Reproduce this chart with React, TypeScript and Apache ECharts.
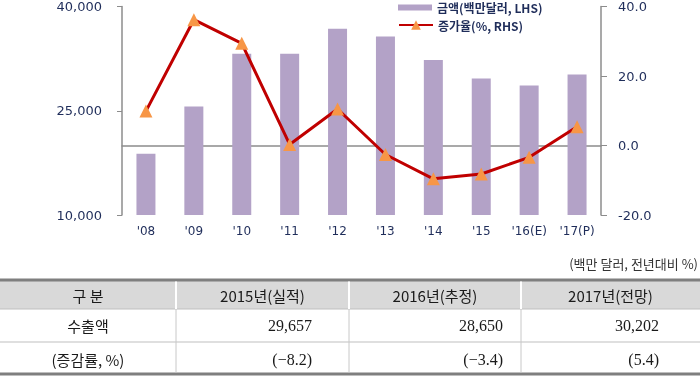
import React, { useEffect, useRef } from "react";
import * as echarts from "echarts";

const categories = ["'08", "'09", "'10", "'11", "'12", "'13", "'14", "'15", "'16(E)", "'17(P)"];
const amounts = [18800, 25600, 33200, 33200, 36800, 35700, 32300, 29657, 28650, 30202];
const growth = [9.9, 36.2, 29.4, 0.3, 10.5, -2.6, -9.6, -8.2, -3.4, 5.4];
const leftTicks = [10000, 25000, 40000];
const rightTicks = [-20, 0, 20, 40];

const unitNote = "(백만 달러, 전년대비 %)";
const tableHeaders = ["구 분", "2015년(실적)", "2016년(추정)", "2017년(전망)"];
const rowLabels = ["수출액", "(증감률, %)"];
const exportValues = ["29,657", "28,650", "30,202"];
const growthValues = ["(−8.2)", "(−3.4)", "(5.4)"];

const NAVY = "#1f2d5a";
const AXIS = "#8c8c8c";

export default function App() {
  const ref = useRef<HTMLDivElement>(null);
  useEffect(() => {
    if (!ref.current) return;
    const chart = echarts.init(ref.current, null, { renderer: "svg" });

    // table geometry
    const colX = [0, 176, 349, 521, 700];
    const tTop = 280, hBot = 309, r1Bot = 342, tBot = 374;
    const valRight = [312, 503, 659];
    const rowY = [325.5, 359];
    const g: any[] = [];
    g.push({ type: "rect", shape: { x: 0, y: tTop, width: 700, height: hBot - tTop }, style: { fill: "#d9d9d9" } });
    g.push({ type: "rect", shape: { x: 0, y: tTop - 1.5, width: 700, height: 3 }, style: { fill: "#7f7f7f" } });
    g.push({ type: "rect", shape: { x: 0, y: tBot - 1.5, width: 700, height: 3 }, style: { fill: "#7f7f7f" } });
    g.push({ type: "line", shape: { x1: 0, y1: hBot, x2: 700, y2: hBot }, style: { stroke: "#bfbfbf", lineWidth: 1 } });
    g.push({ type: "line", shape: { x1: 0, y1: r1Bot, x2: 700, y2: r1Bot }, style: { stroke: "#bfbfbf", lineWidth: 1 } });
    for (let i = 1; i < 4; i++) {
      g.push({ type: "line", shape: { x1: colX[i], y1: tTop + 1.5, x2: colX[i], y2: hBot }, style: { stroke: "#ffffff", lineWidth: 2 } });
      g.push({ type: "line", shape: { x1: colX[i], y1: hBot, x2: colX[i], y2: tBot - 1.5 }, style: { stroke: "#c8c8c8", lineWidth: 1 } });
    }
    tableHeaders.forEach((h, i) => {
      g.push({
        type: "text",
        style: { text: h, x: (colX[i] + colX[i + 1]) / 2, y: 295, textAlign: "center", textVerticalAlign: "middle", fill: "#1a1a1a", font: "15px 'Noto Sans CJK KR'" },
      });
    });
    rowLabels.forEach((l, r) => {
      g.push({
        type: "text",
        style: { text: l, x: (colX[0] + colX[1]) / 2, y: rowY[r], textAlign: "center", textVerticalAlign: "middle", fill: "#1a1a1a", font: "15px 'Noto Sans CJK KR'" },
      });
    });
    [exportValues, growthValues].forEach((vals, r) => {
      vals.forEach((v, i) => {
        g.push({
          type: "text",
          style: { text: v, x: valRight[i], y: rowY[r], textAlign: "right", textVerticalAlign: "middle", fill: "#1a1a1a", font: "16px 'Liberation Serif'" },
        });
      });
    });
    g.push({
      type: "text",
      style: { text: unitNote, x: 698, y: 263, textAlign: "right", textVerticalAlign: "middle", fill: "#333333", font: "13px 'Noto Sans CJK KR'" },
    });

    const legendText = { color: NAVY, fontSize: 12, lineHeight: 12, fontWeight: "bold", fontFamily: "'Noto Sans CJK KR'" };
    chart.setOption({
      animation: false,
      grid: { left: 122, right: 99, top: 3, bottom: 161, containLabel: false },
      legend: [
        {
          data: [{ name: "금액(백만달러, LHS)", icon: "rect" }],
          left: 398, top: 1.5, padding: 0, itemWidth: 34, itemHeight: 6, itemGap: 0,
          textStyle: legendText,
        },
        {
          data: ["증가율(%, RHS)"],
          left: 398, top: 19, padding: 0, itemWidth: 34, itemHeight: 12, itemGap: 0,
          textStyle: legendText,
        },
      ],
      xAxis: {
        type: "category",
        data: categories,
        axisLine: { lineStyle: { color: AXIS, width: 1.5 } },
        axisTick: { show: false },
        axisLabel: { color: NAVY, fontSize: 12, fontFamily: "'DejaVu Sans'", margin: 10, interval: 0 },
      },
      yAxis: [
        {
          type: "value",
          min: 10000, max: 40000, interval: 5000,
          splitLine: { show: false },
          axisLine: { show: true, lineStyle: { color: AXIS, width: 1.5 } },
          axisTick: { show: true, length: 5, customValues: leftTicks, lineStyle: { color: AXIS } },
          axisLabel: {
            customValues: leftTicks, color: NAVY, fontSize: 13, fontFamily: "'DejaVu Sans'", margin: 20,
            formatter: (v: number) => v.toLocaleString("en-US"),
          },
        },
        {
          type: "value",
          min: -20, max: 40, interval: 20,
          splitLine: { show: false },
          axisLine: { show: true, lineStyle: { color: AXIS, width: 1.5 } },
          axisTick: { show: true, length: 6, customValues: rightTicks, lineStyle: { color: AXIS } },
          axisLabel: { customValues: rightTicks, color: NAVY, fontSize: 13, fontFamily: "'DejaVu Sans'", margin: 17, formatter: (v: number) => v.toFixed(1) },
        },
      ],
      series: [
        {
          name: "금액(백만달러, LHS)",
          type: "bar",
          data: amounts,
          barWidth: 19,
          itemStyle: { color: "#b3a2c7" },
          yAxisIndex: 0,
        },
        {
          name: "증가율(%, RHS)",
          type: "line",
          data: growth,
          yAxisIndex: 1,
          symbol: "triangle",
          symbolSize: 13,
          lineStyle: { color: "#c00000", width: 3 },
          itemStyle: { color: "#f79646" },
          z: 5,
        },
      ],
      graphic: g,
    });
    return () => chart.dispose();
  }, []);
  return <div ref={ref} style={{ position: "fixed", left: 0, top: 0, width: 700, height: 376 }} />;
}
